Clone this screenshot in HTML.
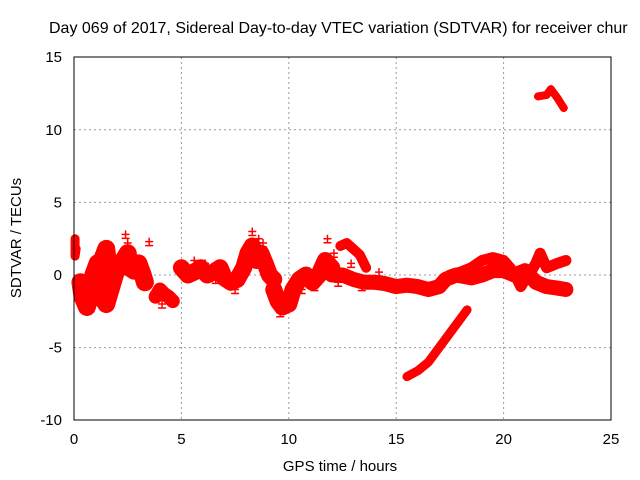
<!DOCTYPE html>
<html><head><meta charset="utf-8"><style>
body{margin:0;background:#fff}
svg{display:block;font-family:"Liberation Sans",Arial,sans-serif}
</style></head><body>
<svg id="chart" width="640" height="480" viewBox="0 0 640 480">
<rect width="640" height="480" fill="#fff"/>
<text x="49" y="33" font-size="16" fill="#000">Day 069 of 2017, Sidereal Day-to-day VTEC variation (SDTVAR) for receiver chur</text>
<text x="340" y="471" font-size="15" text-anchor="middle">GPS time / hours</text>
<text transform="translate(21,238) rotate(-90)" font-size="15" text-anchor="middle">SDTVAR / TECUs</text>
<g id="grid"></g><g id="ticks"></g><g id="marks"></g>
<rect x="74" y="57" width="537" height="363" fill="none" stroke="#000" stroke-width="1"/>
</svg>
<script>
const xTicks=[0,5,10,15,20,25];
const yTicks=[-10,-5,0,5,10,15];
const s1t=[0.3,0.4,0.6,0.8,0.9,1.1,1.3,1.5,1.6,1.4,1.3,1.5,1.7,1.9,2.1,2.3,2.5,2.6,2.8,3.0,3.2,3.3];
const s1v=[-0.5,-1.5,-2.2,-1.2,0,0.8,1,1.8,0.5,-0.5,-1.5,-2,-1,0,0.8,1,1.5,0.5,0.3,0.8,0,-0.5];
const s0t=[0.05,0.05,0.1];
const s0v=[2.5,1.3,1.8];
const s2t=[3.8,4.0,4.2,4.4,4.6];
const s2v=[-1.5,-1.0,-1.3,-1.5,-1.8];
const s3t=[5.0,5.3,5.6,5.9,6.2,6.5,6.8,7.0,7.3,7.6,7.9,8.1,8.3,8.5,8.7,8.9,9.1,9.3];
const s3v=[0.5,0,0.2,0.5,0,0.2,0.5,-0.2,-0.5,-0.3,0.5,1.5,2,1,1.5,0.8,0,-0.3];
const s4t=[9.3,9.5,9.7,10.0,10.2,10.5,10.8,11.1,11.4,11.7,12.0];
const s4v=[-1,-1.8,-2.2,-2,-1.0,-0.3,0,-0.5,0,1,0.5];
const s5t=[12,12.5,13,13.5,14,14.5,15,15.5,16,16.5,17,17.3,17.8,18.5,19,19.5,20,20.5,21,21.5,22,22.5,22.9];
const s5v=[0,0,-0.3,-0.5,-0.5,-0.6,-0.8,-0.7,-0.8,-1,-0.8,-0.3,0,-0.2,0,0.3,0.3,0,0.3,-0.5,-0.8,-0.9,-1];
const s5bt=[12.4,12.7,13,13.3,13.6];
const s5bv=[2,2.2,1.8,1.4,0.5];
const s6t=[17.5,18,18.5,19,19.5,20,20.3,20.6,20.8,21,21.3,21.5,21.7,22,22.5,22.9];
const s6v=[0,0.2,0.5,1,1.2,1,0.5,-0.2,-0.8,-0.3,0.3,0.8,1.5,0.5,0.8,1];
const s7t=[15.5,16,16.5,17,17.5,18,18.3];
const s7v=[-7,-6.6,-6,-5,-4,-3,-2.4];
const s8t=[21.6,22,22.2,22.5,22.8];
const s8v=[12.3,12.4,12.8,12.2,11.5];
const scatT=[0.9,1.2,2.4,2.5,3.5,4.1,5.6,6.1,6.6,7.5,8.0,8.3,8.6,8.8,9.6,9.8,10.6,11.2,11.8,12.1,12.3,12.9,13.4,14.2];
const scatV=[-1.8,1.5,2.8,2.2,2.3,-2,1,0.8,-0.3,-1,1.2,3,2.5,2.2,-2.6,-2.3,-1,-0.8,2.5,1.5,-0.5,0.8,-0.8,0.2];
const X=t=>74+t*537/25, Y=v=>275-v*363/25;
const NS="http://www.w3.org/2000/svg";
const grid=document.getElementById('grid'),ticks=document.getElementById('ticks'),marks=document.getElementById('marks');
function mk(tag,attrs,parent){const e=document.createElementNS(NS,tag);for(const k in attrs)e.setAttribute(k,attrs[k]);parent.appendChild(e);return e;}
xTicks.forEach(t=>{
 if(t>0&&t<25){const g=mk('line',{x1:X(t),x2:X(t),y1:57,y2:420,stroke:'#999','stroke-dasharray':'2,3'},grid);
 
 }
 const l=mk('text',{x:X(t),y:444,'font-size':15,'text-anchor':'middle'},ticks);l.textContent=t;
 
 
});
yTicks.forEach(v=>{
 if(v>-10&&v<15){const g=mk('line',{x1:74,x2:611,y1:Y(v),y2:Y(v),stroke:'#999','stroke-dasharray':'2,3'},grid);
 
 }
 const l=mk('text',{x:62,y:Y(v)+5,'font-size':15,'text-anchor':'end'},ticks);l.textContent=v;
 
 
});
const series=[[s0t,s0v],[s1t,s1v],[s2t,s2v],[s3t,s3v],[s4t,s4v],[s5t,s5v],[s5bt,s5bv],[s6t,s6v],[s7t,s7v],[s8t,s8v]];
const widths=[9,18,14,17,17,15,10,11,9,8];
series.forEach((s,i)=>{
 const pts=s[0].map((t,j)=>X(t)+','+Y(s[1][j])).join(' ');
 const pl=mk('polyline',{points:pts,fill:'none',stroke:'#f00','stroke-width':widths[i],'stroke-linejoin':'round','stroke-linecap':'round'},marks);
 
 
 s[0].forEach((t,j)=>{
  const x=X(t),y=Y(s[1][j]);
  const p=mk('path',{d:`M${x-4},${y}H${x+4}M${x},${y-4}V${y+4}`,stroke:'#f00','stroke-width':1.5},marks);
  
  
 });
});
scatT.forEach((t,j)=>{
 const x=X(t),y=Y(scatV[j]);
 const p=mk('path',{d:`M${x-4},${y}H${x+4}M${x},${y-4}V${y+4}M${x-4},${y+4}H${x+4}`,stroke:'#f00','stroke-width':1.5},marks);
 
 
});
</script>
</body></html>
